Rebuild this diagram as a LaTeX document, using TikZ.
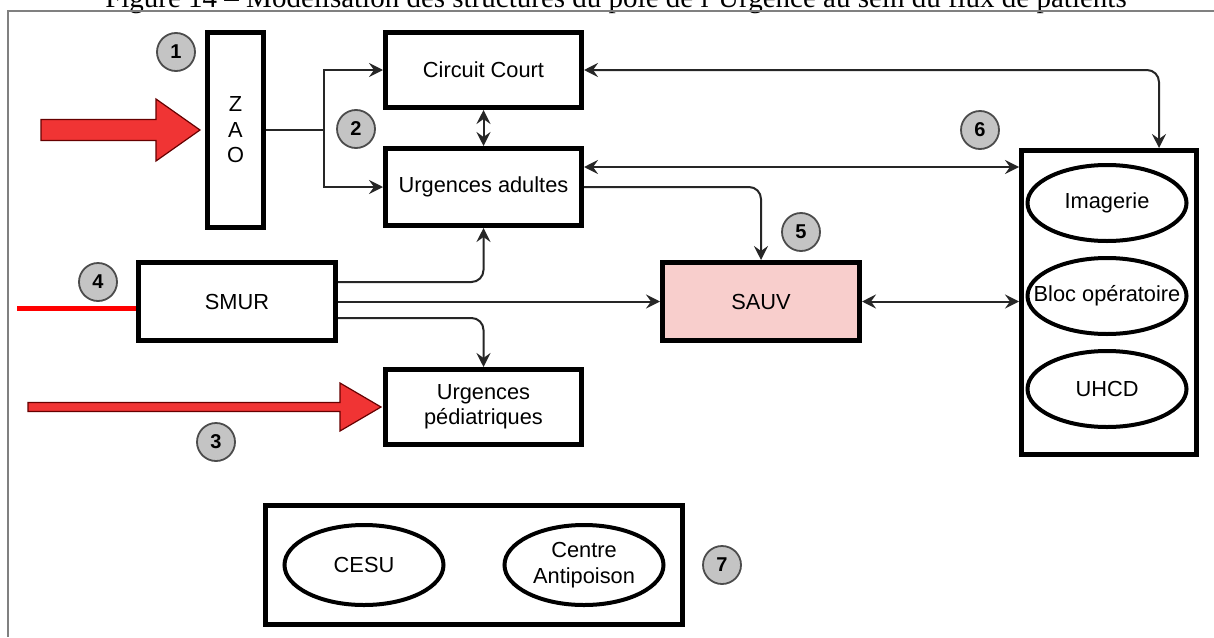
\documentclass[tikz,border=0pt]{standalone}
\usepackage{fontspec}
\setmainfont{Liberation Serif}
\setsansfont{Liberation Sans}
\usetikzlibrary{arrows.meta,shapes.geometric}

\definecolor{flowred}{RGB}{240,52,52}
\definecolor{sauvpink}{RGB}{248,206,204}
\definecolor{numgray}{RGB}{196,196,196}

\begin{document}
\begin{tikzpicture}[x=0.5pt,y=0.5pt,yscale=-1,
  >={Stealth[length=7pt,width=7pt,inset=2.5pt]},
  box/.style={draw, line width=2.3pt, inner sep=0pt, align=center, font=\sffamily\fontsize{10.9}{12.75}\selectfont},
  oval/.style={draw, ellipse, line width=2pt, inner sep=0pt, minimum width=79.5pt, minimum height=38pt, align=center, font=\sffamily\fontsize{10.9}{12.75}\selectfont},
  num/.style={circle, draw=black!70, fill=numgray, line width=0.9pt, minimum size=19pt, inner sep=0pt, font=\sffamily\bfseries\fontsize{10}{12}\selectfont},
  link/.style={draw=black!85, line width=1pt},
  curvy/.style={rounded corners=6pt},
  bigarrow/.style={draw=black!60!red, line width=0.6pt, fill=flowred},
  redline/.style={draw=red, line width=2.5pt}]
\useasboundingbox (0,0) rectangle (1214,637);

% Caption
\node[anchor=base, font=\fontsize{14.5}{16}\selectfont] (caption) at (616,7) {Figure 14 -- Modélisation des structures du pôle de l'Urgence au sein du flux de patients};
%Frame
\draw[gray, line width=0.75pt] (1214,11) -- (8,11) -- (8,637);

%Shape: Rectangle
\node[box, minimum width=28.2pt, minimum height=97.7pt] (zao) at (235.5,130) {Z\\A\\O};
\node[box, minimum width=98.2pt, minimum height=37.7pt] (cc) at (483.5,70) {Circuit Court};
\node[box, minimum width=98.2pt, minimum height=38.7pt] (ua) at (483.5,187) {Urgences adultes};
\node[box, minimum width=98.7pt, minimum height=39.2pt] (smur) at (237,301.5) {SMUR};
\node[box, fill=sauvpink, minimum width=98.7pt, minimum height=39.2pt] (sauv) at (761,301.5) {SAUV};
\node[box, minimum width=98.2pt, minimum height=37.7pt] (ped) at (483.5,407) {Urgences\\pédiatriques};
\node[box, minimum width=87.7pt, minimum height=152.2pt] (plateau) at (1109,302.5) {};
\node[box, minimum width=208.7pt, minimum height=59.7pt] (annexe) at (474,565) {};

%Shape: Ellipse
\node[oval] (imagerie) at (1107,203) {Imagerie};
\node[oval] (bloc) at (1107,296) {\makebox[0pt]{Bloc opératoire}};
\node[oval] (uhcd) at (1107,389) {UHCD};
\node[oval, minimum height=40pt] (cesu) at (364,565) {CESU};
\node[oval, minimum height=40pt] (poison) at (584,565) {Centre\\Antipoison};

%Shape: Circle
\node[num] (n1) at (176,52) {1};
\node[num] (n2) at (356,129) {2};
\node[num] (n3) at (216,442) {3};
\node[num] (n4) at (98,282) {4};
\node[num] (n5) at (801,232) {5};
\node[num] (n6) at (980,130) {6};
\node[num] (n7) at (722,565) {7};

%Straight Lines
\coordinate (split) at (324,130);
\draw[link] (zao) -- (split);
\draw[link,->] (split) |- (cc);
\draw[link,->] (split) |- (ua);
\draw[link,<->] (cc) -- (ua);
\draw[link,curvy,<->] (cc) -| (plateau.north -| 1159,0);
\draw[link,<->] (ua.east |- 0,167) -- (plateau.west |- 0,167);
\draw[link,curvy,->] (ua) -| (sauv);
\draw[link,curvy,->] (smur.east |- 0,282) -| (ua);
\draw[link,->] (smur) -- (sauv);
\draw[link,curvy,->] (smur.east |- 0,318) -| (ped);
\draw[link,<->] (sauv) -- (sauv -| plateau.west);

%Red flows
\draw[bigarrow] (41,119.5) -- (156,119.5) -- (156,99) -- (200,130) -- (156,161) -- (156,140.5) -- (41,140.5) -- cycle;
\draw[bigarrow] (28,402.5) -- (340,402.5) -- (340,383) -- (381,407) -- (340,431) -- (340,411.5) -- (28,411.5) -- cycle;
\coordinate (smurin) at (17,308);
\draw[redline] (smurin) -- (smurin -| smur.west);

\end{tikzpicture}
\end{document}
